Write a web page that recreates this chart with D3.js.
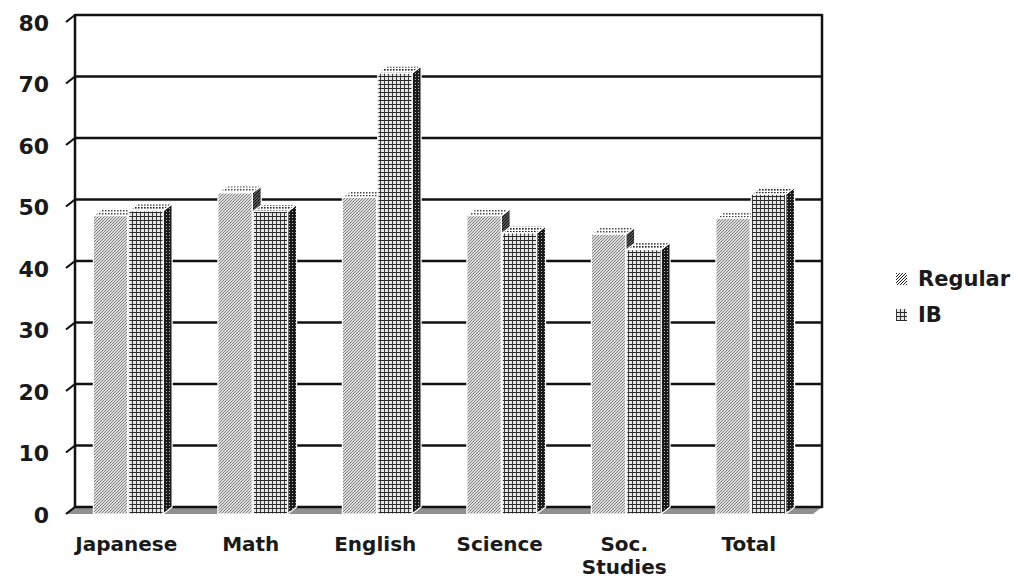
<!DOCTYPE html>
<html><head><meta charset="utf-8">
<script src="https://cdn.jsdelivr.net/npm/d3@7"></script>
<style>html,body{margin:0;padding:0;background:#fff;}svg{display:block;}</style>
</head><body>
<script>
const categories = ["Japanese", "Math", "English", "Science", "Soc.\nStudies", "Total"];
const seriesNames = ["Regular", "IB"];
const regularValues = [48.5, 52.2, 51.5, 48.5, 45.5, 48.1];
const ibValues = [49.3, 49.2, 71.7, 45.7, 43.0, 52.0];
const yTicks = [0, 10, 20, 30, 40, 50, 60, 70, 80];

const W = 1019, H = 579;
const DX = 9, DY = 7; // depth offset (front = back + (-DX, +DY))
const svg = d3.select("body").append("svg").attr("width", W).attr("height", H);
const font = "'DejaVu Sans', Verdana, sans-serif";

const defs = svg.append("defs");
function pat(id, size, bg, draw) {
  const p = defs.append("pattern").attr("id", id).attr("patternUnits", "userSpaceOnUse")
    .attr("width", size).attr("height", size);
  p.append("rect").attr("width", size).attr("height", size).attr("fill", bg);
  draw(p);
}
// Regular front: fine diagonal hatch
pat("regFront", 3, "#dcdcdc", p => {
  p.append("path").attr("d", "M0,3 L3,0 M-1,1 L1,-1 M2,4 L4,2").attr("stroke", "#808080").attr("stroke-width", 1);
});
pat("regSide", 3, "#555", p => {
  p.append("path").attr("d", "M0,3 L3,0").attr("stroke", "#111").attr("stroke-width", 1);
});
pat("regTop", 3, "#fff", p => {
  p.append("rect").attr("x", 0).attr("y", 0).attr("width", 1.5).attr("height", 1.5).attr("fill", "#444");
});
pat("regLegend", 3, "#fff", p => {
  p.append("path").attr("d", "M0,3 L3,0 M-1,1 L1,-1 M2,4 L4,2").attr("stroke", "#222").attr("stroke-width", 1);
});
// IB front: grid
pat("ibFront", 4, "#e6e6e6", p => {
  p.append("path").attr("d", "M0,0 H4 M0,0 V4").attr("stroke", "#2a2a2a").attr("stroke-width", 1.8);
});
pat("ibSide", 3, "#1a1a1a", p => {
  p.append("rect").attr("x", 1).attr("y", 1).attr("width", 1).attr("height", 1).attr("fill", "#bbb");
});
pat("ibTop", 3, "#fff", p => {
  p.append("rect").attr("x", 0).attr("y", 0).attr("width", 1.6).attr("height", 1.6).attr("fill", "#222");
});

const yBack = d3.scaleLinear().domain([0, 80]).range([507, 15]);
const yFront = v => yBack(v) + DY;
const xBackLeft = 75, xBackRight = 822;

const x0 = d3.scaleBand().domain(categories).range([xBackLeft - DX, xBackRight - DX])
  .paddingInner(0.44).paddingOuter(0.22);
const x1 = d3.scaleBand().domain(seriesNames).range([0, x0.bandwidth()]).paddingInner(0.03);

// floor
svg.append("polygon")
  .attr("points", [[xBackLeft, yBack(0)], [xBackRight, yBack(0)], [xBackRight - DX, yFront(0)], [xBackLeft - DX, yFront(0)]].join(" "))
  .attr("fill", "#909090");

// gridlines (back wall)
svg.append("g").selectAll("line").data(yTicks).join("line")
  .attr("x1", xBackLeft).attr("x2", xBackRight)
  .attr("y1", d => yBack(d)).attr("y2", d => yBack(d))
  .attr("stroke", "#111").attr("stroke-width", 2.5);
// side walls lines
svg.append("line").attr("x1", xBackLeft).attr("x2", xBackLeft).attr("y1", yBack(80) - 1).attr("y2", yBack(0) + 1)
  .attr("stroke", "#111").attr("stroke-width", 2.5);
svg.append("line").attr("x1", xBackRight).attr("x2", xBackRight).attr("y1", yBack(80) - 1).attr("y2", yBack(0) + 1)
  .attr("stroke", "#111").attr("stroke-width", 2.5);
// diagonal tick marks
svg.append("g").selectAll("path").data(yTicks).join("path")
  .attr("d", d => `M${xBackLeft},${yBack(d)} L${xBackLeft - DX},${yFront(d)}`)
  .attr("stroke", "#111").attr("stroke-width", 2.2).attr("fill", "none");

// y tick labels
svg.append("g").selectAll("text").data(yTicks).join("text")
  .attr("x", 49).attr("y", d => yFront(d) + 1)
  .attr("text-anchor", "end").attr("dominant-baseline", "central")
  .attr("font-family", font).attr("font-weight", "bold").attr("font-size", 22).attr("fill", "#1a1a1a")
  .text(d => d);

// bars
const data = categories.map((c, i) => ({ c, vals: [
  { s: "Regular", v: regularValues[i] }, { s: "IB", v: ibValues[i] }] }));
const fills = { Regular: ["regFront", "regSide", "regTop"], IB: ["ibFront", "ibSide", "ibTop"] };

const bars = svg.append("g");
data.forEach(d => {
  d.vals.forEach(b => {
    const xl = x0(d.c) + x1(b.s), w = x1.bandwidth();
    const xr = xl + w, yt = yFront(b.v), yb = yFront(0);
    const g = bars.append("g").attr("stroke", "#fff").attr("stroke-width", 1.2).attr("stroke-linejoin", "round");
    g.append("polygon").attr("points", [[xr, yt], [xr + DX, yt - DY], [xr + DX, yb - DY], [xr, yb]].join(" "))
      .attr("fill", `url(#${fills[b.s][1]})`);
    g.append("polygon").attr("points", [[xl, yt], [xl + DX, yt - DY], [xr + DX, yt - DY], [xr, yt]].join(" "))
      .attr("fill", `url(#${fills[b.s][2]})`);
    g.append("rect").attr("x", xl).attr("y", yt).attr("width", w).attr("height", yb - yt)
      .attr("fill", `url(#${fills[b.s][0]})`);
  });
});

// category labels
const lab = svg.append("g").attr("font-family", font).attr("font-weight", "bold").attr("font-size", 20).attr("fill", "#1a1a1a");
categories.forEach(c => {
  const cx = x0(c) + x0.bandwidth() / 2 - 2;
  const t = lab.append("text").attr("x", cx).attr("y", 551).attr("text-anchor", "middle");
  c.split("\n").forEach((line, i) => {
    t.append("tspan").attr("x", cx).attr("dy", i === 0 ? 0 : 23).text(line);
  });
});

// legend
const leg = svg.append("g");
const legItems = [{ s: "Regular", p: "regLegend", y: 279 }, { s: "IB", p: "ibFront", y: 315 }];
legItems.forEach(it => {
  leg.append("rect").attr("x", 896).attr("y", it.y - 6).attr("width", 11).attr("height", 12).attr("fill", `url(#${it.p})`);
  leg.append("text").attr("x", 918).attr("y", it.y).attr("dominant-baseline", "central")
    .attr("font-family", font).attr("font-weight", "bold").attr("font-size", 21).attr("fill", "#1a1a1a").text(it.s);
});
</script>
</body></html>
